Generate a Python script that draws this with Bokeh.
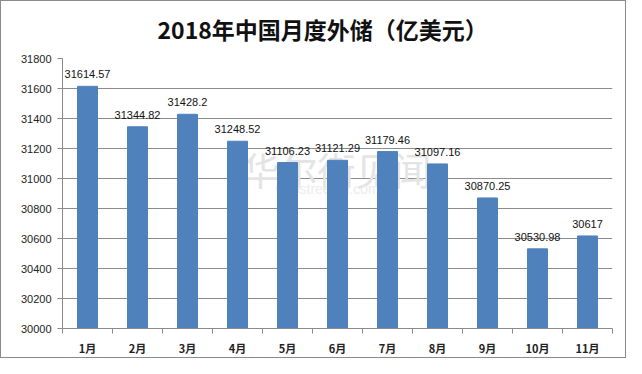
from bokeh.plotting import figure
from bokeh.models import Range1d, LinearAxis, FixedTicker, ColumnDataSource, Label, Title
from bokeh.core.properties import value
from bokeh.embed import file_html
from bokeh.resources import INLINE

months = ["1月", "2月", "3月", "4月", "5月", "6月", "7月", "8月", "9月", "10月", "11月"]
reserves = [31614.57, 31344.82, 31428.2, 31248.52, 31106.23, 31121.29, 31179.46, 31097.16, 30870.25, 30530.98, 30617]
label_texts = ["31614.57", "31344.82", "31428.2", "31248.52", "31106.23", "31121.29", "31179.46", "31097.16", "30870.25", "30530.98", "30617"]
y_ticks = list(range(30000, 31801, 200))

xc = [i + 0.5 for i in range(len(months))]
src = ColumnDataSource(dict(x=xc, top=reserves, lab=label_texts))

W, H = 626, 358
p = figure(width=W, height=H, output_backend="svg", toolbar_location=None,
           x_range=Range1d(0, len(months)), y_range=Range1d(30000, 31800),
           min_border_left=61, min_border_right=15, min_border_top=57, min_border_bottom=31,
           x_axis_location=None, y_axis_location=None)
p.styles = {"border": "1px solid #8a8a8a", "box-sizing": "border-box"}
p.outline_line_color = None
p.background_fill_color = "white"
p.border_fill_color = "white"

p.title = Title(text="2018年中国月度外储（亿美元）", align="left", vertical_align="top",
                text_font="Noto Sans CJK SC", text_font_style="bold", text_font_size="23px",
                text_color="#111111", standoff=21, offset=95)

# watermark
p.add_layout(Label(x=5.48, y=31067, text="华尔街见闻", text_align="center", text_baseline="middle",
                   text_font="Noto Sans CJK SC", text_font_size="38px", text_color="#e4e4e4",
                   level="underlay"))
p.add_layout(Label(x=5.3, y=30930, text="wallstreetcn.com", text_align="center", text_baseline="middle",
                   text_font="Liberation Sans", text_font_size="14px", text_color="#ececec",
                   level="underlay"))

# y axis
ya = LinearAxis(ticker=FixedTicker(ticks=y_ticks))
ya.axis_line_color = "#8a8a8a"
ya.major_tick_line_color = "#8a8a8a"
ya.major_tick_in = 0
ya.major_tick_out = 5
ya.minor_tick_line_color = None
ya.major_label_text_font = "Liberation Sans"
ya.major_label_text_font_size = "11px"
ya.major_label_text_color = "#222222"
ya.major_label_standoff = 6
p.add_layout(ya, "left")

# x axis: ticks between categories
xa = LinearAxis(ticker=FixedTicker(ticks=list(range(len(months) + 1))))
xa.axis_line_color = "#8a8a8a"
xa.major_tick_line_color = "#8a8a8a"
xa.major_tick_in = 0
xa.major_tick_out = 5
xa.minor_tick_line_color = None
xa.major_label_text_font_size = "0px"
xa.major_label_text_alpha = 0
p.add_layout(xa, "below")

# x labels at category centres
xl = LinearAxis(ticker=FixedTicker(ticks=xc))
xl.major_label_overrides = {x: m for x, m in zip(xc, months)}
xl.axis_line_color = None
xl.major_tick_line_color = None
xl.minor_tick_line_color = None
xl.major_label_text_font = "Noto Sans CJK SC"
xl.major_label_text_font_style = "bold"
xl.major_label_text_font_size = "11px"
xl.major_label_text_color = "#222222"
xl.major_label_standoff = 0
p.add_layout(xl, "below")

p.xgrid.visible = False
p.ygrid.ticker = FixedTicker(ticks=y_ticks)
p.ygrid.grid_line_color = "#8c8c8c"
p.ygrid.grid_line_width = 1

p.vbar(x="x", top="top", bottom=30000, width=0.4, source=src,
       fill_color="#4F81BD", line_color="#4F81BD")

p.text(x="x", y="top", text="lab", source=src, text_align="center", text_baseline="bottom",
       y_offset=-8, text_font=value("Liberation Sans"), text_font_size="11px", text_color="#111111")

open("out.html", "w").write(file_html(p, INLINE))
